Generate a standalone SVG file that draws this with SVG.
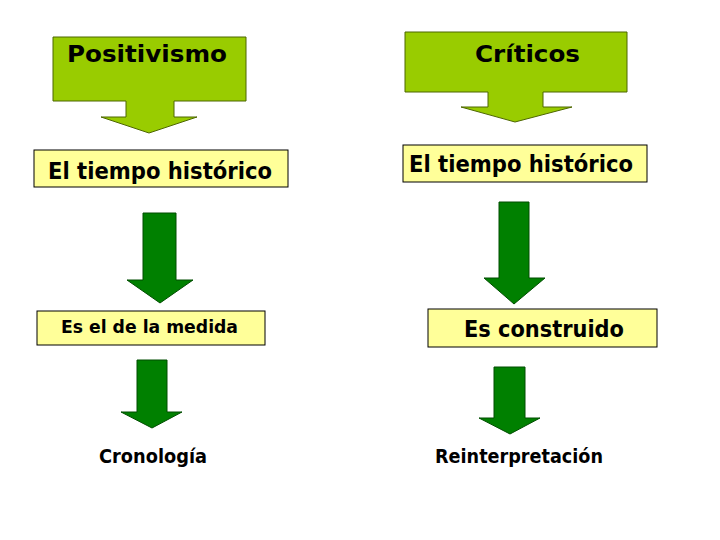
<svg xmlns="http://www.w3.org/2000/svg" width="720" height="540" viewBox="0 0 720 540">
<style>
.lime{fill:#99CC00;stroke:#4D6600;stroke-width:1}
.box{fill:#FFFF99;stroke:#000;stroke-width:1}
.arr{fill:#008000;stroke:#004D00;stroke-width:1}
text{font-family:"DejaVu Sans","Liberation Sans",sans-serif;font-weight:bold;fill:#000}
</style>
<rect width="720" height="540" fill="#fff"/>
<g id="positivismo">
<path class="lime" d="M53,37 H246 V101 H174 V117 H197 L149,133 L101,117 H126 V101 H53 Z"/>
<text x="67" y="62" font-size="23" textLength="160" lengthAdjust="spacingAndGlyphs">Positivismo</text>
</g>
<g id="criticos">
<path class="lime" d="M405,32 H627 V92 H543 V107 H572 L515,122 L461,107 H488 V92 H405 Z"/>
<text x="475" y="62" font-size="23" textLength="105" lengthAdjust="spacingAndGlyphs">Críticos</text>
</g>
<g id="tiempo-left">
<rect class="box" x="34" y="150" width="254" height="37"/>
<text x="48" y="179" font-size="23" textLength="224" lengthAdjust="spacingAndGlyphs">El tiempo histórico</text>
</g>
<g id="tiempo-right">
<rect class="box" x="403" y="145" width="244" height="37"/>
<text x="409" y="172" font-size="23" textLength="224" lengthAdjust="spacingAndGlyphs">El tiempo histórico</text>
</g>
<g id="medida">
<rect class="box" x="37" y="311" width="228" height="34"/>
<text x="61" y="333" font-size="18" textLength="177" lengthAdjust="spacingAndGlyphs">Es el de la medida</text>
</g>
<g id="construido">
<rect class="box" x="428" y="309" width="229" height="38"/>
<text x="464" y="337" font-size="23" textLength="160" lengthAdjust="spacingAndGlyphs">Es construido</text>
</g>
<g id="cronologia">
<text x="99" y="463" font-size="20" textLength="108" lengthAdjust="spacingAndGlyphs">Cronología</text>
</g>
<g id="reinterpretacion">
<text x="435" y="463" font-size="20" textLength="168" lengthAdjust="spacingAndGlyphs">Reinterpretación</text>
</g>
<g id="connectors">
<path class="arr" d="M143,213 H176 V280 H193 L160,303 L127,280 H143 Z"/>
<path class="arr" d="M137,360 H167 V412 H182 L152,428 L121,412 H137 Z"/>
<path class="arr" d="M499,202 H529 V278 H545 L514,304 L484,278 H499 Z"/>
<path class="arr" d="M494,367 H525 V418 H540 L510,434 L479,418 H494 Z"/>
</g>
</svg>
